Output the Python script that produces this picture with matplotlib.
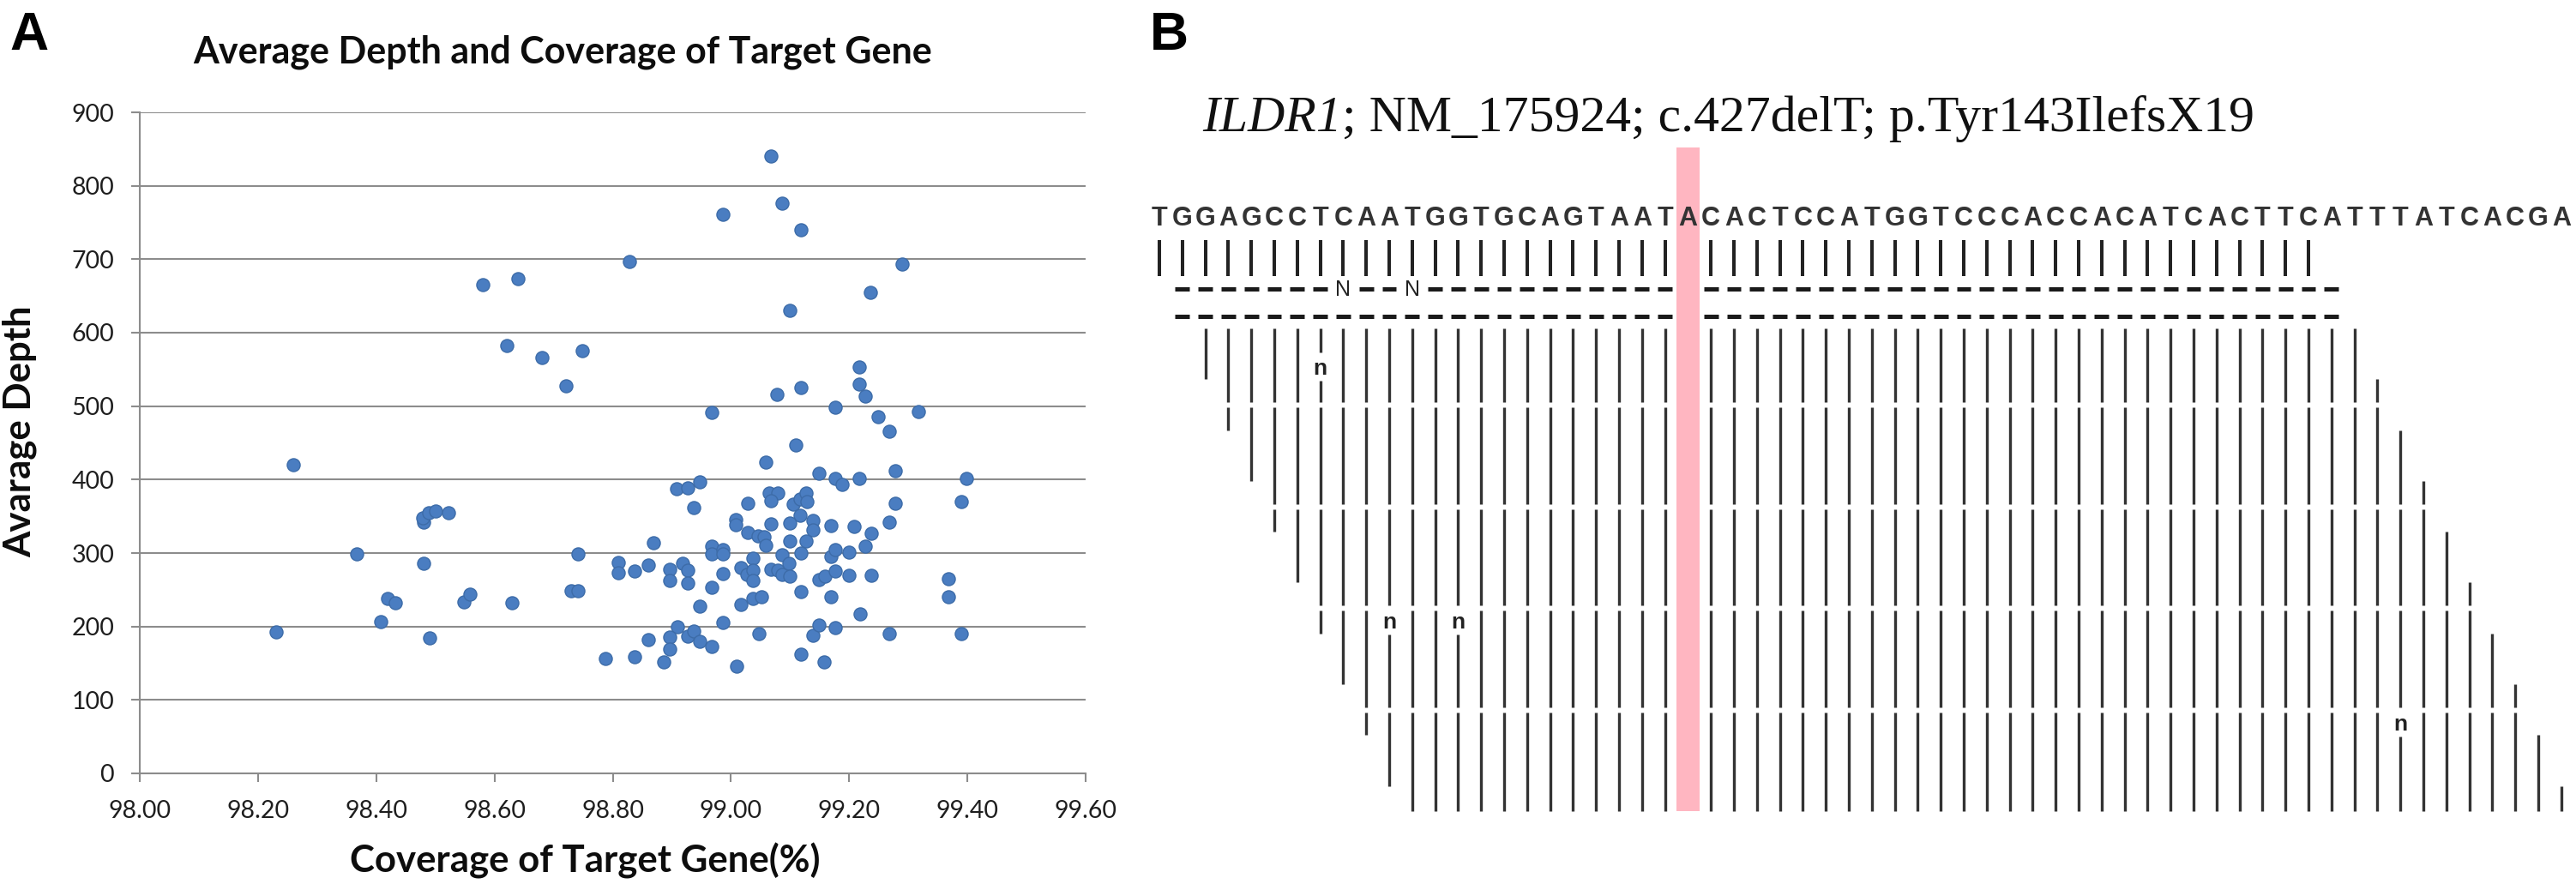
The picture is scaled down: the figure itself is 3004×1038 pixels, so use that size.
import matplotlib
matplotlib.use("Agg")
import matplotlib.pyplot as plt

# ---------------- Panel A data ----------------
coverage = [
    98.580, 98.640, 98.621, 98.680, 98.749, 98.721,
    99.068, 99.087, 98.987, 99.118, 98.828, 99.289, 99.236, 99.099, 99.217, 99.217,
    99.227, 99.118, 99.078, 99.177, 98.968, 99.249, 99.317, 99.268,
    99.109, 99.059, 99.149, 99.278, 99.176, 99.188, 99.217, 99.399, 99.389, 99.278,
    98.908, 98.927, 98.947, 98.937, 99.028, 99.065, 99.079, 99.067, 99.106, 99.117,
    99.127, 99.129, 99.117, 99.008, 99.008, 99.028, 99.067, 99.099, 99.138, 99.138,
    99.169, 99.208, 99.237, 99.268, 99.046, 99.056, 99.059, 99.099, 99.127, 98.869,
    98.968, 98.968, 98.987, 98.987, 99.037, 99.087, 99.118, 99.169, 99.177, 99.200,
    99.227, 98.810, 98.810, 98.837, 98.860, 98.896, 98.896, 98.918, 98.927, 98.927,
    98.968, 98.987, 99.017, 99.027, 99.037, 99.037, 99.067, 99.079, 99.087, 99.098,
    99.100, 99.149, 99.159, 99.177, 99.200, 99.237, 99.368, 99.368, 99.118, 99.169,
    99.017, 99.037, 99.051, 98.947, 99.218, 98.909, 98.896, 98.927, 98.937, 98.947,
    98.987, 99.048, 99.138, 99.149, 99.177, 99.268, 99.389, 98.860, 98.968, 98.896,
    98.887, 98.837, 98.787, 99.118, 99.158, 99.009,
    98.259, 98.230, 98.367, 98.480, 98.480, 98.478, 98.489, 98.500, 98.522, 98.419,
    98.432, 98.408, 98.490, 98.549, 98.559, 98.630, 98.730, 98.741, 98.741,
]
depth = [
    665, 674, 582, 566, 576, 528,
    841, 776, 761, 740, 697, 693, 655, 630, 553, 530,
    514, 525, 516, 499, 491, 486, 493, 466,
    447, 424, 408, 412, 402, 393, 401, 401, 370, 368,
    387, 389, 397, 362, 368, 382, 382, 371, 366, 373,
    382, 370, 351, 345, 338, 328, 340, 341, 344, 331,
    337, 336, 327, 342, 323, 322, 310, 316, 316, 314,
    309, 299, 305, 299, 293, 298, 300, 295, 305, 301,
    309, 287, 273, 276, 284, 278, 263, 286, 277, 259,
    253, 272, 280, 271, 277, 263, 278, 277, 271, 286,
    268, 264, 269, 275, 270, 270, 265, 240, 247, 240,
    230, 238, 240, 228, 217, 200, 186, 187, 194, 180,
    205, 190, 188, 202, 199, 190, 190, 182, 173, 169,
    152, 159, 157, 162, 152, 146,
    420, 193, 299, 286, 342, 348, 355, 357, 355, 238,
    232, 207, 184, 234, 244, 232, 249, 249, 299,
]
x_ticks = [98.00, 98.20, 98.40, 98.60, 98.80, 99.00, 99.20, 99.40, 99.60]
y_ticks = [0, 100, 200, 300, 400, 500, 600, 700, 800, 900]
title_a = "Average Depth and Coverage of Target Gene"
xlabel_a = "Coverage of Target Gene(%)"
ylabel_a = "Avarage Depth"

# ---------------- Panel B data ----------------
reference_seq = "TGGAGCCTCAATGGTGCAGTAATACACTCCATGGTCCCACCACATCACTTCATTTATCACGA"
deleted_col = 24                      # highlighted column (no read support)
top_read = (1, 51)                    # first row of match bars
dash_reads = [(2, 52), (2, 52)]       # two rows shown as dashes
dash_N = [(0, 9), (0, 12)]            # (dash row, column) carrying an 'N'
block_starts = [3, 4, 5, 6, 7, 8, 9, 10, 11, 12]
block_ends = [53, 54, 55, 56, 57, 58, 59, 60, 61, 62]
insert_marks = [(8, 1), (11, 11), (14, 11), (55, 15)]   # (column, line)
page_breaks = [3, 7, 11, 15]
n_lines = 19
title_b_italic = "ILDR1"
title_b_rest = "; NM_175924; c.427delT; p.Tyr143IlefsX19"

# ---------------- figure ----------------
W, H = 3004, 1038
fig = plt.figure(figsize=(W / 100, H / 100), dpi=100)
fig.patch.set_facecolor("white")


def fx(x):
    return x / W


def fy(y):
    return 1 - y / H


GRID = "#8c8c8c"
BLUE = "#4a7dc1"

# ----- Panel A -----
ax = fig.add_axes([fx(163), fy(902), (1266 - 163) / W, (902 - 131) / H])
ax.scatter(coverage, depth, s=118, facecolor=BLUE, edgecolor="#3d6ca8",
           linewidths=1.0, zorder=3)
ax.set_xlim(98.0, 99.6)
ax.set_ylim(0, 900)
ax.set_xticks(x_ticks)
ax.set_xticklabels([f"{v:.2f}" for v in x_ticks])
ax.set_yticks(y_ticks)
ax.set_yticklabels([str(v) for v in y_ticks])
ax.yaxis.grid(True, color=GRID, linewidth=1.5)
ax.set_axisbelow(True)
for s in ["top", "right"]:
    ax.spines[s].set_visible(False)
for s in ["left", "bottom"]:
    ax.spines[s].set_color(GRID)
    ax.spines[s].set_linewidth(1.5)
ax.tick_params(axis="both", direction="out", length=7.5, width=1.5, color=GRID,
               labelsize=20.5, labelcolor="#1e1e1e")
ax.tick_params(axis="x", pad=15)
ax.tick_params(axis="y", pad=14)
for lab in ax.get_xticklabels() + ax.get_yticklabels():
    lab.set_family("Lato")

fig.text(fx(656), fy(61), title_a, ha="center", va="center", fontsize=31,
         fontweight="bold", family="Lato", color="#0d0d0d")
fig.text(fx(682), fy(1004), xlabel_a, ha="center", va="center", fontsize=31.5,
         fontweight="bold", family="Lato", color="#0d0d0d")
fig.text(fx(23), fy(503), ylabel_a, ha="center", va="center", fontsize=31.5,
         rotation=90, fontweight="bold", family="Lato", color="#0d0d0d")

fig.text(fx(34), fy(42), "A", ha="center", va="center", fontsize=45,
         fontweight="bold", family="Liberation Sans")
fig.text(fx(1363), fy(42), "B", ha="center", va="center", fontsize=45,
         fontweight="bold", family="Liberation Sans")

# ----- Panel B -----
COL0_PX, COL_W = 1352, 26.8
LINE0_PX, LINE_H = 383, 29.65
PX_L, PX_R = 1340, 3004
axb = fig.add_axes([fx(PX_L), 0, (PX_R - PX_L) / W, 1])
axb.set_xlim(1 + (PX_L - COL0_PX) / COL_W, 1 + (PX_R - COL0_PX) / COL_W)
axb.set_ylim((H - LINE0_PX) / LINE_H, -LINE0_PX / LINE_H)
axb.axis("off")

n_cols = len(reference_seq)
cols = list(range(1, n_cols + 1))

# highlight of the deleted base
pink_top = (172 - LINE0_PX) / LINE_H
axb.bar([deleted_col], [n_lines - pink_top], bottom=[pink_top], width=1.03,
        color="#ffb6c1", edgecolor="none", zorder=1)

# reference letters
for c, ch in zip(cols, reference_seq):
    axb.text(c, -4.05, ch, ha="center", va="baseline", fontsize=22,
             fontweight="bold", family="Liberation Sans", color="#333333",
             zorder=4)

# first row of match bars
top_cols = [c for c in range(top_read[0], top_read[1] + 1) if c != deleted_col]
axb.vlines(top_cols, -3.47, -2.06, color="#222222", linewidth=2.9, zorder=3)

# dashed rows
dash_y = [-1.55, -0.47]
for r, (s, e) in enumerate(dash_reads):
    ncols = [c for (rr, c) in dash_N if rr == r]
    dcols = [c for c in range(s, e + 1) if c != deleted_col and c not in ncols]
    axb.hlines([dash_y[r]] * len(dcols), [c - 0.317 for c in dcols],
               [c + 0.317 for c in dcols], color="#1a1a1a", linewidth=3.6,
               zorder=3)
    for c in ncols:
        axb.text(c, dash_y[r] + 0.27, "N", ha="center", va="baseline",
                 fontsize=18, family="Liberation Sans", color="#222222",
                 zorder=4)

# stacked reads (vertical bars per column)
half_gap = 0.1


def column_segments(c):
    ks = [k for k, (s, e) in enumerate(zip(block_starts, block_ends)) if s <= c <= e]
    if not ks:
        return []
    lo = 2 * min(ks)
    hi = min(2 * max(ks) + 2, n_lines)
    cuts = [(b - half_gap, b + half_gap) for b in page_breaks if lo < b < hi]
    cuts += [(L - 0.05, L + 1.05) for (cc, L) in insert_marks if cc == c]
    segs = [(lo, hi)]
    for a, b in cuts:
        new = []
        for s, e in segs:
            if b <= s or a >= e:
                new.append((s, e))
                continue
            if a > s:
                new.append((s, a))
            if b < e:
                new.append((b, e))
        segs = new
    return segs


xs, y0s, y1s = [], [], []
for c in cols:
    if c == deleted_col:
        continue
    for s, e in column_segments(c):
        xs.append(c)
        y0s.append(s)
        y1s.append(e)
axb.vlines(xs, y0s, y1s, color="#333333", linewidth=2.4, zorder=3)

for c, L in insert_marks:
    axb.text(c, L + 0.82, "n", ha="center", va="baseline", fontsize=19,
             fontweight="bold", family="Liberation Sans", color="#222222",
             zorder=4)

# title of panel B (italic gene symbol + regular rest)
t1 = fig.text(fx(1402), fy(153), title_b_italic, ha="left", va="baseline",
              fontsize=43, style="italic", family="Liberation Serif",
              color="#111111")
fig.canvas.draw()
bb = t1.get_window_extent()
fig.text(bb.x1 / W, fy(153), title_b_rest, ha="left", va="baseline",
         fontsize=43, family="Liberation Serif", color="#111111")

fig.savefig("out.png", dpi=100, facecolor="white")
